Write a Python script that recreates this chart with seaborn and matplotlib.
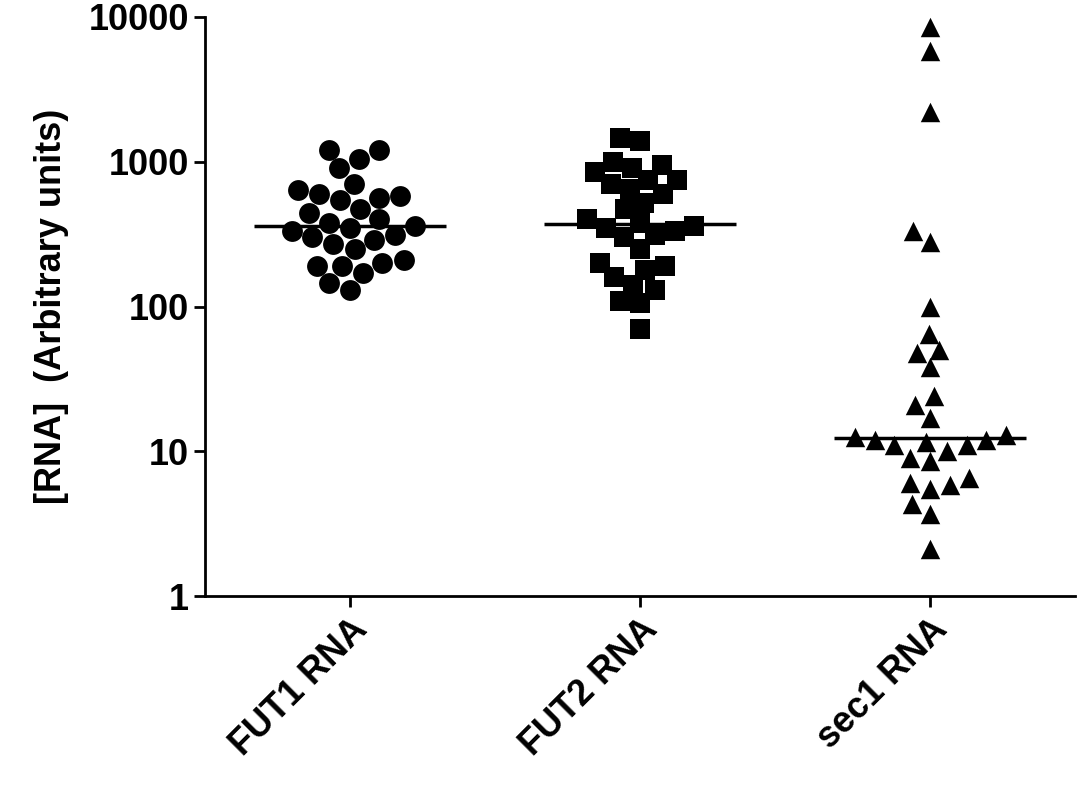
import matplotlib
matplotlib.use("Agg")
import matplotlib.pyplot as plt
import seaborn as sns
import numpy as np
import pandas as pd
import warnings
warnings.filterwarnings("ignore")

categories = ["FUT1 RNA", "FUT2 RNA", "sec1 RNA"]
fut1 = [1200, 1050, 900, 1200, 600, 540, 640, 580, 700, 560, 470, 440, 380, 360, 350,
        330, 290, 270, 300, 250, 190, 170, 210, 200, 190, 130, 145, 310, 400]
fut2 = [1450, 1400, 1000, 950, 900, 850, 750, 700, 750, 650, 600, 520, 470, 400, 350,
        380, 360, 330, 310, 300, 250, 200, 190, 180, 160, 140, 130, 110, 105, 70]
sec1 = [8500, 5800, 2200, 280, 330, 100, 65, 50, 48, 38, 24, 21, 17, 13, 12.5, 12,
        11.5, 12, 11, 11, 10, 9, 8.5, 6.5, 5.8, 5.5, 6, 4.3, 3.7, 2.1]
markers = ["o", "s", "^"]

df = pd.DataFrame({
    "cat": [categories[0]] * len(fut1) + [categories[1]] * len(fut2) + [categories[2]] * len(sec1),
    "val": fut1 + fut2 + sec1,
})

sns.set_style("ticks")
plt.rcParams["font.family"] = ["Liberation Sans", "DejaVu Sans"]
plt.rcParams["text.color"] = "black"
plt.rcParams["axes.labelcolor"] = "black"
plt.rcParams["xtick.color"] = "black"
plt.rcParams["ytick.color"] = "black"
plt.rcParams["axes.edgecolor"] = "black"
fig = plt.figure(figsize=(10.77, 8), dpi=100)
ax = fig.add_axes([205 / 1077, 1 - 596 / 800, 870 / 1077, 579 / 800])
ax.set_yscale("log")
for c, m in zip(categories, markers):
    sub = df[df["cat"] == c]
    sns.swarmplot(data=sub, x="cat", y="val", order=categories, marker=m, color="black",
                  size=14 if m != "o" else 15, ax=ax, native_scale=False)
for i, c in enumerate(categories):
    med = np.median(df[df["cat"] == c]["val"])
    ax.hlines(med, i - 0.33, i + 0.33, color="black", lw=2.5, zorder=5)

ax.set_xlim(-0.5, 2.5)
ax.set_ylim(1, 10000)
ax.set_yticks([1, 10, 100, 1000, 10000])
ax.set_yticklabels(["1", "10", "100", "1000", "10000"])
ax.minorticks_off()
ax.set_xlabel("")
ax.set_ylabel("[RNA]  (Arbitrary units)", fontsize=26, fontweight="bold", labelpad=14)
for lab in ax.get_yticklabels():
    lab.set_fontsize(26); lab.set_fontweight("bold")
ax.set_xticks(range(3))
ax.set_xticklabels(categories, rotation=45, ha="right", rotation_mode="anchor",
                   fontsize=26, fontweight="bold")
ax.tick_params(width=2, length=8, colors="black")
for s in ["left", "bottom"]:
    ax.spines[s].set_linewidth(2)
sns.despine(ax=ax)
fig.savefig("out.png", dpi=100)
